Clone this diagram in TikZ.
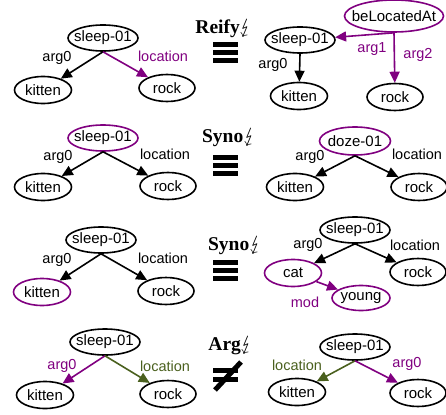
\documentclass[tikz,border=0pt]{standalone}
\usepackage{fontspec}
\usepackage{stmaryrd}
\newfontfamily\amrfont{Liberation Sans}
\newfontfamily\rulefont{Liberation Serif}
\usetikzlibrary{shapes.geometric}
\usetikzlibrary{arrows.meta}
\definecolor{amrpurple}{RGB}{128,0,128}
\definecolor{amrgreen}{RGB}{74,96,30}
\tikzset{
  concept/.style={ellipse, draw, line width=1.6pt, inner sep=0pt,
    minimum width=57pt, minimum height=27pt,
    font=\amrfont\fontsize{15}{15}\selectfont,
    execute at begin node={\hbox to 0pt\bgroup\hss},
    execute at end node={\hss\egroup}},
  pred/.style={concept, minimum width=70pt, minimum height=26pt},
  rel/.style={-{Triangle[length=11pt,width=10pt]}, line width=1.6pt},
  role/.style={font=\amrfont\fontsize{14.5}{14.5}\selectfont, inner sep=0pt},
  rule/.style={font=\rulefont\bfseries\fontsize{19.5}{19.5}\selectfont, inner sep=0pt},
  bar/.style={line width=5pt},
}
\begin{document}
\begin{tikzpicture}[x=1pt,y=-1pt]
\useasboundingbox (0,0) rectangle (446,414);
% reify
\node[pred] (s1) at (103,38) {sleep-01};
\node[concept] (k1) at (43,90) {kitten};
\node[concept, minimum width=56pt] (r1) at (167,88) {rock};
\draw[rel] (s1.south) -- (k1);
\draw[rel, amrpurple] (s1.south) -- (r1);
\node[role] (a1) at (57,58) {arg0};
\node[role, amrpurple] (l1) at (163,56) {location};
\node[rule] (t1) at (224,28) {Reify$\lightning$};
\node[concept, amrpurple, minimum width=99pt, minimum height=32pt] (b1) at (394,16) {\color{black}beLocatedAt};
\node[pred] (s1r) at (300,40) {sleep-01};
\node[concept] (k1r) at (299,96) {kitten};
\node[concept, minimum width=56pt] (r1r) at (395,97) {rock};
\draw[rel, amrpurple] (b1.south) -- (s1r);
\draw[rel, amrpurple] (b1.south) -- (r1r);
\draw[rel] (s1r.south) -- (k1r);
\node[role, amrpurple] (g1) at (372,49) {arg1};
\node[role, amrpurple] (g2) at (418,55) {arg2};
\node[role] (a1r) at (273,65) {arg0};
% synonym
\node[pred, amrpurple] (s2) at (103,138) {\color{black}sleep-01};
\node[concept] (k2) at (43,187) {kitten};
\node[concept, minimum width=56pt] (r2) at (168,186) {rock};
\draw[rel] (s2.south) -- (k2);
\draw[rel] (s2.south) -- (r2);
\node[role] (a2) at (58,157) {arg0};
\node[role] (l2) at (165,154) {location};
\node[rule] (t2) at (229,137) {Syno$\lightning$};
\node[pred, amrpurple, minimum width=71pt, minimum height=28pt] (d2r) at (355,141) {\color{black}doze-01};
\node[concept] (k2r) at (295,187) {kitten};
\node[concept, minimum width=56pt] (r2r) at (419,187) {rock};
\draw[rel] (d2r.south) -- (k2r);
\draw[rel] (d2r.south) -- (r2r);
\node[role] (a2r) at (310,157) {arg0};
\node[role] (l2r) at (417,154) {location};
% synonym, sub-graph
\node[pred] (s3) at (101,240) {sleep-01};
\node[concept, amrpurple] (k3) at (42,292) {\color{black}kitten};
\node[concept, minimum width=56pt] (r3) at (166,291) {rock};
\draw[rel] (s3.south) -- (k3);
\draw[rel] (s3.south) -- (r3);
\node[role] (a3) at (57,260) {arg0};
\node[role] (l3) at (163,258) {location};
\node[rule] (t3) at (235,245) {Syno$\lightning$};
\node[pred] (s3r) at (355,230) {sleep-01};
\node[concept, amrpurple] (c3r) at (293,273) {\color{black}cat};
\node[concept, amrpurple, minimum width=58pt, minimum height=25pt] (y3r) at (361,298) {\color{black}young};
\node[concept, minimum width=56pt] (r3r) at (418,272) {rock};
\draw[rel] (s3r.south) -- (c3r);
\draw[rel] (s3r.south) -- (r3r);
\draw[rel, amrpurple] (c3r) -- (y3r);
\node[role] (a3r) at (308,245) {arg0};
\node[role] (l3r) at (415,245) {location};
\node[role, amrpurple] (m3r) at (305,302) {mod};
% swapped arguments
\node[pred] (s4) at (105,342) {sleep-01};
\node[concept] (k4) at (45,395) {kitten};
\node[concept, minimum width=56pt] (r4) at (168,394) {rock};
\draw[rel, amrpurple] (s4.south) -- (k4);
\draw[rel, amrgreen] (s4.south) -- (r4);
\node[role, amrpurple] (a4) at (62,366) {arg0};
\node[role, amrgreen] (l4) at (165,366) {location};
\node[rule] (t4) at (231,345) {Arg$\lightning$};
\node[pred] (s4r) at (355,347) {sleep-01};
\node[concept] (k4r) at (297,392) {kitten};
\node[concept, minimum width=56pt] (r4r) at (418,393) {rock};
\draw[rel, amrgreen] (s4r.south) -- (k4r);
\draw[rel, amrpurple] (s4r.south) -- (r4r);
\node[role, amrgreen] (l4r) at (297,365) {location};
\node[role, amrpurple] (a4r) at (407,364) {arg0};
% equivalence bars
\foreach \y in {53,165,270}
  \foreach \d in {-8,0,8}
    \draw[bar] (213,\y+\d) -- (238,\y+\d);
\foreach \d in {-4.5,4.5}
  \draw[bar] (213,375+\d) -- (238,375+\d);
\draw[bar] (241,362) -- (215,390);
\end{tikzpicture}
\end{document}
